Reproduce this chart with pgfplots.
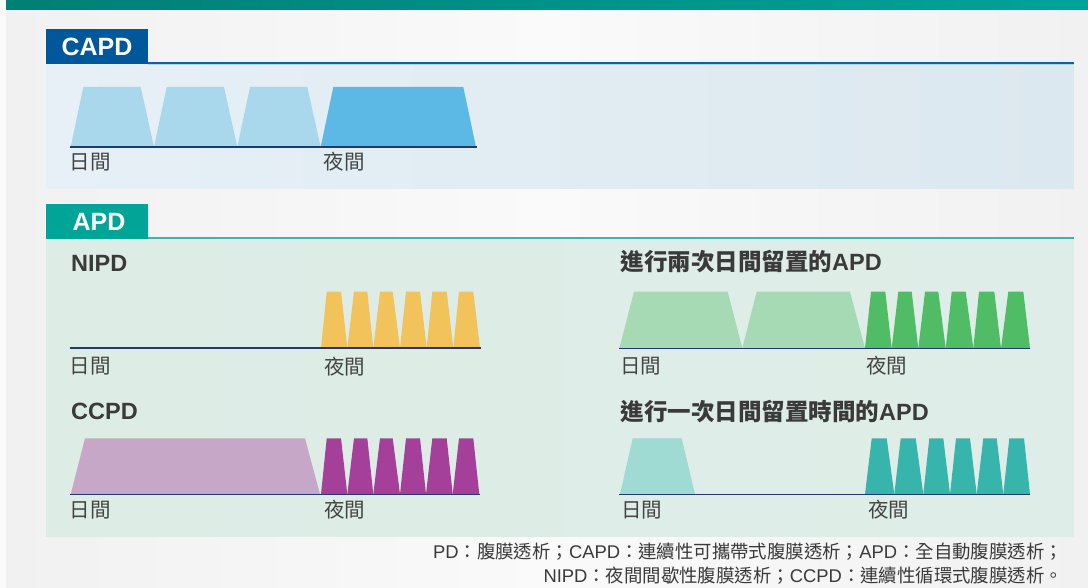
\documentclass[border=0pt]{standalone}
\usepackage{pgfplots}
\pgfplotsset{compat=1.18}
\usepackage{fontspec}
\setmainfont{Noto Sans CJK TC}
\newfontfamily\lat{Liberation Sans}
\definecolor{bandL}{HTML}{007F74}
\definecolor{bandR}{HTML}{00A39A}
\definecolor{capdbox}{HTML}{00589A}
\definecolor{capdline}{HTML}{1B5F99}
\definecolor{capdL}{HTML}{E6F0F6}
\definecolor{capdR}{HTML}{DCE8EF}
\definecolor{apdbox}{HTML}{00A598}
\definecolor{apdline}{HTML}{3DB5A9}
\definecolor{apdL}{HTML}{DDECE5}
\definecolor{apdR}{HTML}{DFEDE8}
\definecolor{blueL}{HTML}{A9D7EC}
\definecolor{blueD}{HTML}{5CB8E4}
\definecolor{yel}{HTML}{F2C35A}
\definecolor{greenL}{HTML}{A6DAB5}
\definecolor{greenD}{HTML}{50BD66}
\definecolor{purL}{HTML}{C7A7C8}
\definecolor{purD}{HTML}{A4409A}
\definecolor{tealL}{HTML}{9FDAD3}
\definecolor{tealD}{HTML}{37B5AD}
\definecolor{navy}{HTML}{24396B}
\definecolor{txt}{HTML}{3A3A3A}
\definecolor{lbltxt}{HTML}{444444}
\definecolor{bgE}{HTML}{F1F1F1}
\definecolor{bgM}{HTML}{FAFAFA}
\newcommand\lbl{\fontsize{20.5bp}{24bp}\selectfont}
\newcommand\ttl{\fontsize{23.5bp}{28bp}\selectfont\bfseries}
\newcommand\boxf{\fontsize{25bp}{30bp}\selectfont\bfseries\lat}
\newcommand\foot{\fontsize{18.4bp}{22bp}\selectfont}
\begin{document}
\begin{tikzpicture}
\begin{axis}[width=1088bp, height=588bp, scale only axis,
  xmin=0, xmax=1088, ymin=0, ymax=588, y dir=reverse,
  hide axis, clip=false, no markers,
  every axis plot/.append style={draw=none, forget plot}]
% backgrounds
\fill[bgM] (0,0) rectangle (1088,588);
\shade[left color=bgE, right color=bgE, middle color=bgM] (6,10) rectangle (1088,588);
\shade[left color=bandL, right color=bandR] (6,0) rectangle (1088,10);
% CAPD section
\shade[left color=capdL, right color=capdR] (46,64) rectangle (1073.5,188);
\draw[capdline, line width=2bp] (148,62.6) -- (1073.5,62.6);
\draw[blueL, line width=0.8bp] (148,64.2) -- (1073.5,64.2);
\fill[capdbox] (46,29) rectangle (148,64.3);
\node[anchor=center, inner sep=0, text=white, font=\boxf] at (97,47) {CAPD};
% APD section
\shade[left color=apdL, right color=apdR] (46,239) rectangle (1073.5,536);
\draw[apdline, line width=1.6bp] (148,237.8) -- (1073.5,237.8);
\fill[apdbox] (46,204) rectangle (148,239.3);
\node[anchor=center, inner sep=0, text=white, font=\boxf] at (99,222) {APD};

% CAPD trapezoids
\addplot[fill=blueL] coordinates {(70.7,147) (83.3,87) (140.7,87) (154,147)};
\addplot[fill=blueL] coordinates {(154,147) (166.7,87) (224,87) (237.3,147)};
\addplot[fill=blueL] coordinates {(237.3,147) (250,87) (307.3,87) (320.7,147)};
\addplot[fill=blueD] coordinates {(320.7,147) (333.3,87) (463.3,87) (476,147)};
\draw[navy, line width=1.3bp] (70,147) -- (476.7,147);

% NIPD
\addplot[fill=yel] coordinates {(321,347.7) (326.7,291.7) (341,291.7) (347.3,347.7)};
\addplot[fill=yel] coordinates {(347.3,347.7) (354,291.7) (367.3,291.7) (373.3,347.7)};
\addplot[fill=yel] coordinates {(373.3,347.7) (380,291.7) (392.7,291.7) (400,347.7)};
\addplot[fill=yel] coordinates {(400,347.7) (406,291.7) (420,291.7) (426.7,347.7)};
\addplot[fill=yel] coordinates {(426.7,347.7) (432.3,291.7) (446.7,291.7) (453.3,347.7)};
\addplot[fill=yel] coordinates {(453.3,347.7) (459,291.7) (473.3,291.7) (480,347.7)};
\draw[navy, line width=1.3bp] (70,348) -- (481,348);

% two day dwells
\addplot[fill=greenL] coordinates {(619.3,348.3) (634,291.7) (727.7,291.7) (742.3,348.3)};
\addplot[fill=greenL] coordinates {(742.3,348.3) (756.7,291.7) (850,291.7) (865,348.3)};
\addplot[fill=greenD] coordinates {(865,348.3) (871,291.7) (885.3,291.7) (891.7,348.3)};
\addplot[fill=greenD] coordinates {(891.7,348.3) (898.3,291.7) (911.7,291.7) (918.3,348.3)};
\addplot[fill=greenD] coordinates {(918.3,348.3) (925,291.7) (938.3,291.7) (945.7,348.3)};
\addplot[fill=greenD] coordinates {(945.7,348.3) (951.7,291.7) (965.7,291.7) (973.3,348.3)};
\addplot[fill=greenD] coordinates {(973.3,348.3) (979,291.7) (994.3,291.7) (1001,348.3)};
\addplot[fill=greenD] coordinates {(1001,348.3) (1008.3,291.7) (1023.3,291.7) (1030,348.3)};
\draw[navy, line width=1.3bp] (619,348.3) -- (1030,348.3);

% CCPD
\addplot[fill=purL] coordinates {(70.7,494.3) (85,438.3) (305,438.3) (320,494.3)};
\addplot[fill=purD] coordinates {(321,494.3) (326.7,438.3) (341,438.3) (347.3,494.3)};
\addplot[fill=purD] coordinates {(347.3,494.3) (354,438.3) (367.3,438.3) (373.3,494.3)};
\addplot[fill=purD] coordinates {(373.3,494.3) (380,438.3) (392.7,438.3) (400,494.3)};
\addplot[fill=purD] coordinates {(400,494.3) (406,438.3) (420,438.3) (426,494.3)};
\addplot[fill=purD] coordinates {(426,494.3) (432.3,438.3) (446.7,438.3) (452.7,494.3)};
\addplot[fill=purD] coordinates {(452.7,494.3) (459,438.3) (473.3,438.3) (479.3,494.3)};
\draw[navy, line width=1.3bp] (70,494.3) -- (479.5,494.3);

% one day dwell
\addplot[fill=tealL] coordinates {(620,494.3) (632.7,438.3) (681.7,438.3) (695,494.3)};
\addplot[fill=tealD] coordinates {(865,494.3) (871.7,438.3) (886.7,438.3) (894.3,494.3)};
\addplot[fill=tealD] coordinates {(894.3,494.3) (900.7,438.3) (915.7,438.3) (923.3,494.3)};
\addplot[fill=tealD] coordinates {(923.3,494.3) (929.3,438.3) (943.3,438.3) (950,494.3)};
\addplot[fill=tealD] coordinates {(950,494.3) (956,438.3) (970,438.3) (976.7,494.3)};
\addplot[fill=tealD] coordinates {(976.7,494.3) (983.3,438.3) (996.7,438.3) (1003.3,494.3)};
\addplot[fill=tealD] coordinates {(1003.3,494.3) (1009.3,438.3) (1024,438.3) (1030,494.3)};
\draw[navy, line width=1.3bp] (619,494.3) -- (1030,494.3);

% titles
\node[anchor=base west, inner sep=0, text=txt, font=\ttl] at (71,271.7) {\lat NIPD};
\node[anchor=base west, inner sep=0, text=txt, font=\ttl] at (620.5,270.5) {進行兩次日間留置的{\lat APD}};
\node[anchor=base west, inner sep=0, text=txt, font=\ttl] at (71,419) {\lat CCPD};
\node[anchor=base west, inner sep=0, text=txt, font=\ttl] at (620.5,420.5) {進行一次日間留置時間的{\lat APD}};

% day/night labels
\node[anchor=west, inner sep=0, text=lbltxt, font=\lbl] at (69.5,162) {日間};
\node[anchor=west, inner sep=0, text=lbltxt, font=\lbl] at (323.5,162) {夜間};
\node[anchor=west, inner sep=0, text=lbltxt, font=\lbl] at (69.5,366.5) {日間};
\node[anchor=west, inner sep=0, text=lbltxt, font=\lbl] at (324,366.5) {夜間};
\node[anchor=west, inner sep=0, text=lbltxt, font=\lbl] at (620,366) {日間};
\node[anchor=west, inner sep=0, text=lbltxt, font=\lbl] at (866,366) {夜間};
\node[anchor=west, inner sep=0, text=lbltxt, font=\lbl] at (69.5,510) {日間};
\node[anchor=west, inner sep=0, text=lbltxt, font=\lbl] at (324,510) {夜間};
\node[anchor=west, inner sep=0, text=lbltxt, font=\lbl] at (621,510) {日間};
\node[anchor=west, inner sep=0, text=lbltxt, font=\lbl] at (868,510) {夜間};

% footer
\node[anchor=east, inner sep=0, text=txt, font=\foot] at (1063,552) {{\lat PD}：腹膜透析；{\lat CAPD}：連續性可攜帶式腹膜透析；{\lat APD}：全自動腹膜透析；};
\node[anchor=east, inner sep=0, text=txt, font=\foot] at (1063,576) {{\lat NIPD}：夜間間歇性腹膜透析；{\lat CCPD}：連續性循環式腹膜透析。};
\end{axis}
\end{tikzpicture}
\end{document}
